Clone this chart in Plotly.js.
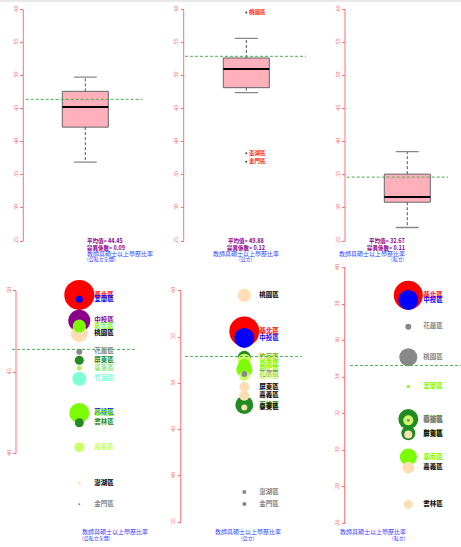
<!DOCTYPE html>
<html><head><meta charset="utf-8">
<script src="https://cdn.plot.ly/plotly-3.0.1.min.js"></script>
<style>html,body{margin:0;padding:0;background:#fff}#chart{width:461px;height:547px}</style>
</head><body><div id="chart"></div>
<script>
// ---------------- data ----------------
const namesAll  = ['基北區','宜蘭區','中投區','彰化區','桃園區','花蓮區','屏東區','臺東區','竹苗區','高雄區','臺南區','雲林區','嘉義區','澎湖區','金門區'];
const valuesAll = [49.74,49.47,48.16,47.83,47.38,46.26,45.73,45.26,44.60,42.55,42.50,41.90,40.40,38.20,36.90];
const bubbleAll = [30,7,22,13,17,6,9,5,14,16,20,9,10,3,2];

const namesPub  = ['桃園區','基北區','中投區','竹苗區','宜蘭區','臺南區','彰化區','花蓮區','雲林區','屏東區','嘉義區','高雄區','臺東區','澎湖區','金門區'];
const valuesPub = [59.5,55.6,54.9,52.8,52.5,52.0,51.5,51.0,50.8,49.6,48.66,47.66,47.4,38.25,36.96];
const bubblePub = [13,30,20,13,13,12,16,6,10,10,10,18,6,4,4];

const namesPri  = ['基北區','中投區','花蓮區','桃園區','宜蘭區','高雄區','臺東區','竹苗區','彰化區','屏東區','臺南區','嘉義區','雲林區'];
const valuesPri = [38.5,38.24,36.77,35.1,33.5,31.71,31.64,31.64,30.93,30.86,29.63,29.05,27.04];
const bubblePri = [29,20,6,18,3,20,10,3,14,8,17,12,9];

const groupLabels = ['(公私立全體)','(公立)','(私立)'];
const measureName = '教師具碩士以上學歷比率';
const meanValues  = ['44.45','49.88','32.67'];
const cvValues    = ['0.09','0.12','0.11'];
const overallLine = [46.4, 52.9, 34.65];
const topTicks    = [25,30,35,40,45,50,55,60];
const botTicks    = [[40,45,50],[35,40,45,50,55,60],[26,28,30,32,34,36,38,40]];

// ---------------- styles ----------------
const RED='#FF0000', BLUE='#0000FF', PUR='#8B008B', LAWN='#7CFC00', BIS='#FFDDB5', GRAY='#888888',
      FOR='#228B22', PALE='#CCFF66', AQUA='#7FFFD4', YG='#B5F55A';
const colAll = [RED,BLUE,PUR,LAWN,BIS,GRAY,FOR,YG,AQUA,LAWN,LAWN,FOR,PALE,BIS,GRAY];
const labAll = [RED,BLUE,PUR,LAWN,'#000',GRAY,FOR,'#9BE37A',AQUA,BLUE,LAWN,FOR,PALE,'#000',GRAY];
const colPub = [BIS,RED,BLUE,FOR,PALE,LAWN,LAWN,GRAY,PALE,BIS,BIS,FOR,BIS,GRAY,GRAY];
const labPub = ['#000',RED,BLUE,'#7FAF20',PALE,LAWN,LAWN,GRAY,PALE,'#000','#000',FOR,'#000',GRAY,GRAY];
const colPri = [RED,BLUE,GRAY,GRAY,LAWN,FOR,PALE,GRAY,FOR,BIS,LAWN,BIS,BIS];
const labPri = [RED,BLUE,GRAY,GRAY,LAWN,FOR,GRAY,GRAY,FOR,'#000',LAWN,'#000','#000'];

const W=461,H=547;
const px=x=>x/W, py=y=>(H-y)/H;
const AX='#FF7070', TXT='#FF6060', DASH='#4CAF50';
const CJK='"Noto Sans CJK TC","Noto Sans CJK SC",sans-serif';

// Tukey five-number summary
function stats(v){
  const s=[...v].sort((a,b)=>a-b), n=s.length;
  const at=d=>0.5*(s[Math.floor(d)-1]+s[Math.ceil(d)-1]);
  const n4=Math.floor((n+3)/2)/2;
  const q1=at(n4), med=at((n+1)/2), q3=at(n+1-n4), iqr=q3-q1;
  const inside=s.filter(x=>x>=q1-1.5*iqr && x<=q3+1.5*iqr);
  return {q1,med,q3,lo:Math.min(...inside),hi:Math.max(...inside),lofence:q1-1.5*iqr,hifence:q3+1.5*iqr};
}

const data=[], shapes=[], annotations=[];
const layout={width:W,height:H,margin:{l:0,r:0,t:0,b:0},paper_bgcolor:'#fff',plot_bgcolor:'rgba(0,0,0,0)',
  showlegend:false,font:{family:CJK}};

// top row geometry (px)
const topDom=[[25.7,142.3],[185,306],[346.7,448]];
const topCtr=[85.3,246.3,407.3];
const topAxisX=[23.3,183.7,345];
const boxW=46;
const topY=[9.3,241];
const sets=[[namesAll,valuesAll],[namesPub,valuesPub],[namesPri,valuesPri]];
const tickFont={size:6,color:TXT,family:'Liberation Serif, serif'};

for(let i=0;i<3;i++){
  const k=i+1, xa='x'+k, ya='y'+k;
  const [a,b]=topDom[i], c=topCtr[i];
  layout['xaxis'+k]={domain:[px(a),px(b)],range:[(a-c)/boxW,(b-c)/boxW],visible:false,fixedrange:true};
  layout['yaxis'+k]={domain:[py(topY[1]),py(topY[0])],range:[25,60],anchor:'free',position:px(topAxisX[i]),
    showgrid:false,zeroline:false,showline:false,tickvals:topTicks,ticks:'outside',ticklen:3,tickcolor:AX,
    tickangle:-90,tickfont:tickFont};
  const st=stats(sets[i][1]);
  data.push({type:'box',xaxis:xa,yaxis:ya,x:[0],q1:[st.q1],median:[st.med],q3:[st.q3],
    lowerfence:[st.q1],upperfence:[st.q3],width:1,fillcolor:'#FFB0BB',line:{color:'#666',width:1},
    whiskerwidth:0,boxpoints:false,hoverinfo:'skip'});
  data.push({type:'scatter',mode:'lines',xaxis:xa,yaxis:ya,x:[0,0,null,0,0],y:[st.q3,st.hi,null,st.q1,st.lo],
    line:{color:'#555',width:1,dash:'3px,2px'},hoverinfo:'skip'});
  data.push({type:'scatter',mode:'lines',xaxis:xa,yaxis:ya,x:[-0.25,0.25,null,-0.25,0.25],y:[st.hi,st.hi,null,st.lo,st.lo],
    line:{color:'#888',width:1.3},hoverinfo:'skip'});
  data.push({type:'scatter',mode:'lines',xaxis:xa,yaxis:ya,x:[-0.5,0.5],y:[st.med,st.med],
    line:{color:'#000',width:2},hoverinfo:'skip'});
  const ox=[],oy=[],ot=[];
  sets[i][1].forEach((v,j)=>{ if(v<st.lofence||v>st.hifence){ox.push(0);oy.push(v);ot.push(sets[i][0][j]);} });
  if(oy.length){
    data.push({type:'scatter',mode:'markers',xaxis:xa,yaxis:ya,x:ox,y:oy,marker:{size:2,color:'#444'},hoverinfo:'skip'});
    data.push({type:'scatter',mode:'text',xaxis:xa,yaxis:ya,x:ox.map(()=>0.06),y:oy,text:ot,textposition:'middle right',
      textfont:{size:5.5,color:'#FF2020',family:CJK,weight:'bold'},hoverinfo:'skip',cliponaxis:false});
  }
  shapes.push({type:'line',xref:'paper',yref:ya,x0:px(topAxisX[i]),x1:px(topAxisX[i]),y0:25,y1:60,line:{color:AX,width:1}});
  shapes.push({type:'line',xref:xa+' domain',yref:ya,x0:0,x1:1,y0:overallLine[i],y1:overallLine[i],line:{color:DASH,width:1,dash:'3px,2px'}});
  const cx=px(c);
  annotations.push({xref:'paper',yref:'paper',x:cx,y:py(240.7),text:'<b>平均值= '+meanValues[i]+'</b>',showarrow:false,font:{size:5.5,color:'#8B008B'}});
  annotations.push({xref:'paper',yref:'paper',x:cx,y:py(247.5),text:'<b>變異係數= '+cvValues[i]+'</b>',showarrow:false,font:{size:5.5,color:'#8B008B'}});
  annotations.push({xref:'paper',yref:'paper',x:cx,y:py(253.3),text:measureName,showarrow:false,font:{size:6,color:'#3344FF'}});
  annotations.push({xref:'paper',yref:'paper',x:cx,y:py(258.8),text:groupLabels[i],showarrow:false,font:{size:5,color:'#3344FF'}});
}

// bottom row
const botDom=[[16,137],[180.7,301.7],[344.7,461]];
const dashDom=[[12,137],[185,301.7],[350,461]];
const botCtr=[79.3,244.3,408.3];
const botY=[265,526];
const botRange=[[35.564,51.577],[34.59,62.775],[25.852,40.153]];
const bubbles=[bubbleAll,bubblePub,bubblePri];
const cols=[colAll,colPub,colPri], labs=[labAll,labPub,labPri];
const titleX=[80,247.7,408];
for(let i=0;i<3;i++){
  const k=i+4, xa='x'+k, ya='y'+k;
  const [a,b]=botDom[i], c=botCtr[i];
  layout['xaxis'+k]={domain:[px(a),px(b)],range:[a-c,b-c],visible:false,fixedrange:true};
  const ticks=botTicks[i];
  layout['yaxis'+k]={domain:[py(botY[1]),py(botY[0])],range:botRange[i],anchor:'free',position:px(a),
    showgrid:false,zeroline:false,showline:false,tickvals:ticks,ticks:'outside',ticklen:3,tickcolor:AX,
    tickangle:-90,tickfont:tickFont};
  const names=sets[i][0], vals=sets[i][1], sz=bubbles[i];
  const order=vals.map((v,j)=>j).sort((p,q)=>sz[q]-sz[p]);
  data.push({type:'scatter',mode:'markers',xaxis:xa,yaxis:ya,cliponaxis:false,
    x:order.map(()=>0),y:order.map(j=>vals[j]),
    marker:{size:order.map(j=>sz[j]),color:order.map(j=>cols[i][j]),line:{width:0},opacity:1},hoverinfo:'skip'});
  data.push({type:'scatter',mode:'text',xaxis:xa,yaxis:ya,cliponaxis:false,
    x:vals.map(()=>15),y:vals,text:names,textposition:'middle right',
    textfont:{size:6.5,color:labs[i],family:CJK,weight:'bold'},hoverinfo:'skip'});
  shapes.push({type:'line',xref:'paper',yref:ya,x0:px(a),x1:px(a),y0:ticks[0],y1:ticks[ticks.length-1],line:{color:AX,width:1}});
  shapes.push({type:'line',xref:'paper',yref:ya,x0:px(dashDom[i][0]),x1:px(dashDom[i][1]),y0:overallLine[i],y1:overallLine[i],line:{color:DASH,width:1,dash:'3px,2px'}});
  annotations.push({xref:'paper',yref:'paper',x:px(titleX[i]),y:py(537.7),text:measureName,showarrow:false,font:{size:6,color:'#3344FF'}});
  annotations.push({xref:'paper',yref:'paper',x:px(titleX[i]),y:py(544.3),text:groupLabels[i],showarrow:false,font:{size:5,color:'#3344FF'}});
}
shapes.push({type:'rect',xref:'paper',yref:'paper',x0:0,x1:1,y0:py(2),y1:1,fillcolor:'#E8E8E8',line:{width:0}});
layout.shapes=shapes; layout.annotations=annotations;
Plotly.newPlot('chart',data,layout,{staticPlot:true});
</script></body></html>
